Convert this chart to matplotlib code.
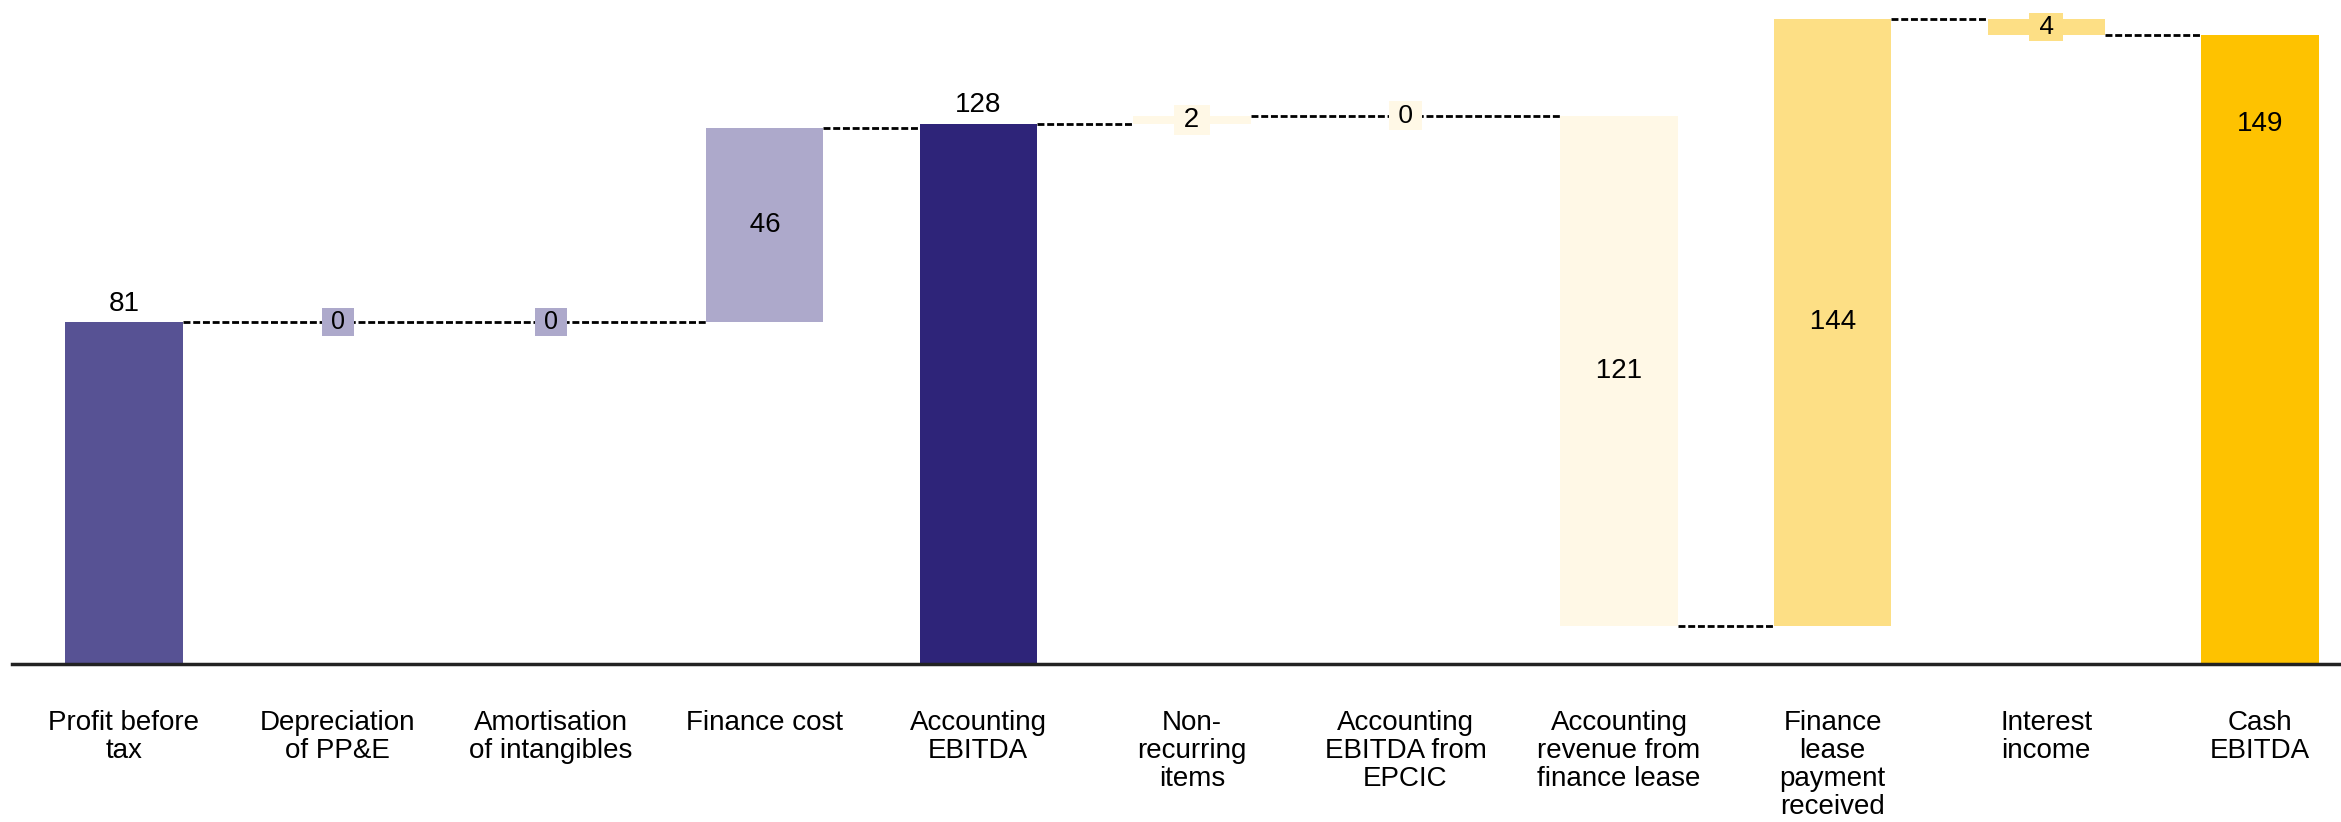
import matplotlib.pyplot as plt

plt.rcParams['font.family'] = ['Liberation Sans', 'DejaVu Sans']

categories = ['Profit before\ntax', 'Depreciation\nof PP&E', 'Amortisation\nof intangibles',
              'Finance cost', 'Accounting\nEBITDA', 'Non-\nrecurring\nitems',
              'Accounting\nEBITDA from\nEPCIC', 'Accounting\nrevenue from\nfinance lease',
              'Finance\nlease\npayment\nreceived', 'Interest\nincome', 'Cash\nEBITDA']
values = [81, 0, 0, 46, 128, 2, 0, -121, 144, -4, 149]
is_total = [True, False, False, False, True, False, False, False, False, False, True]
colors = ['#575294', '#ada9cb', '#ada9cb', '#ada9cb', '#2e2479', '#fff8e6',
          '#fff8e6', '#fff8e6', '#fddf85', '#fddf85', '#fec200']
label_sizes = [20, 18, 18, 20, 20, 20, 19, 20, 20, 19, 20]

fig = plt.figure(figsize=(23.41, 8.22), dpi=100)
ax = fig.add_axes([12 / 2341, 158 / 822, 1 - 12 / 2341, 664 / 822])

width = 0.55
ytop = 157.4

# running levels of the waterfall
bottoms, tops, levels = [], [], []
level = 0
for v, tot in zip(values, is_total):
    if tot:
        b, t = 0, v
    else:
        b, t = level, level + v
    level = t
    levels.append(level)
    bottoms.append(min(b, t))
    tops.append(max(b, t))

heights = [t - b for b, t in zip(bottoms, tops)]
x = list(range(len(values)))
ax.bar(x, heights, bottom=bottoms, width=width, color=colors, zorder=2)

# dashed connectors, skipping zero-height bars
nonzero = [i for i in x if heights[i] > 0]
for a, b in zip(nonzero[:-1], nonzero[1:]):
    ax.plot([a + width / 2, b - width / 2], [levels[a], levels[a]], color='black',
            lw=2, ls=(0, (2.5, 1)), zorder=1)

# value labels
for i, v in enumerate(values):
    txt = str(abs(v))
    fs = label_sizes[i]
    if is_total[i]:
        if tops[i] + 20 < ytop:
            ax.annotate(txt, (i, tops[i]), xytext=(0, 4), textcoords='offset points',
                        ha='center', va='bottom', fontsize=fs, zorder=4)
        else:
            ax.text(i, tops[i] - 21, txt, ha='center', va='center', fontsize=fs, zorder=4)
    else:
        mid = (bottoms[i] + tops[i]) / 2
        ax.text(i, mid, ' ' + txt + ' ', ha='center', va='center', fontsize=fs, zorder=4,
                bbox=dict(boxstyle='square,pad=0.08', fc=colors[i], ec='none'))

ax.set_xlim(-0.524, 10.38)
ax.set_ylim(0, ytop)
ax.set_xticks(x)
ax.set_xticklabels(categories, fontsize=20, linespacing=1.1)
ax.tick_params(axis='x', length=0, pad=33)
ax.set_yticks([])
for s in ['top', 'left', 'right']:
    ax.spines[s].set_visible(False)
ax.spines['bottom'].set_linewidth(2.5)
ax.spines['bottom'].set_color('#222222')

fig.savefig('out.png', dpi=100)
